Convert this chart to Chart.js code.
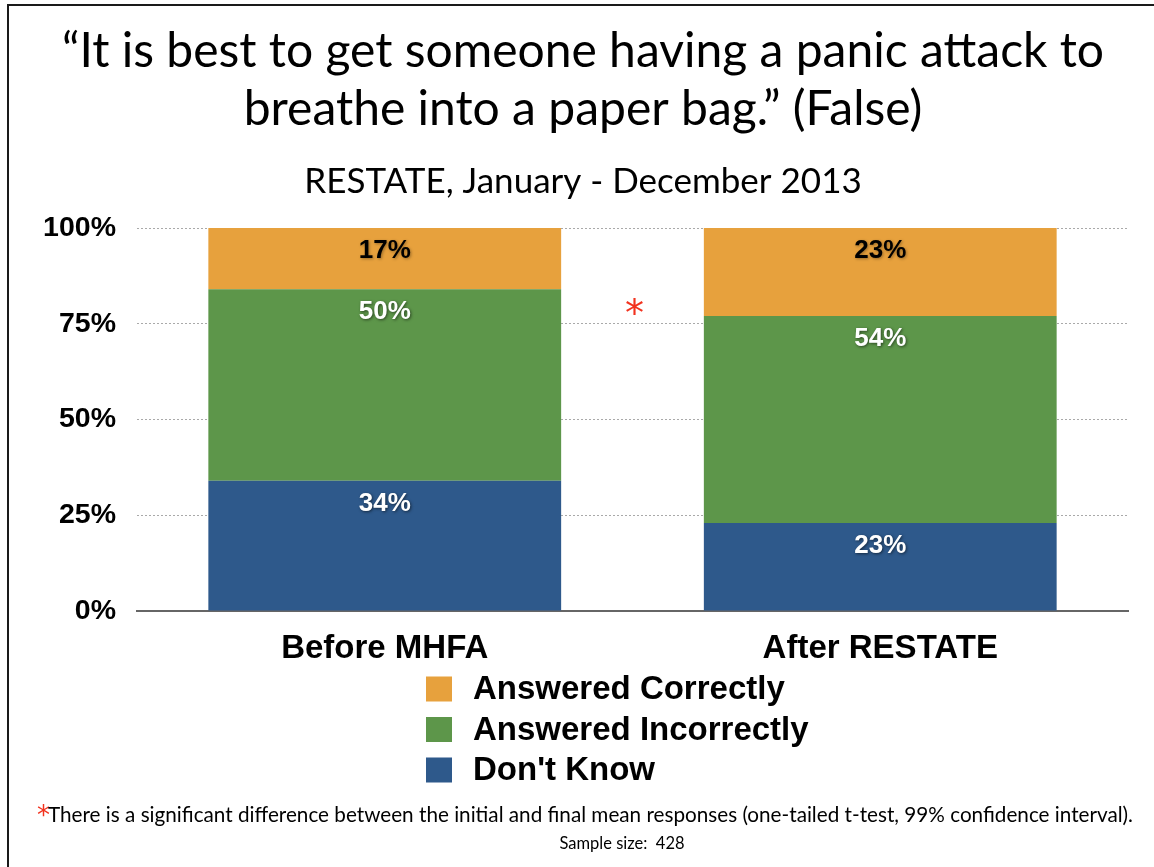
<!DOCTYPE html>
<html>
<head>
<meta charset="utf-8">
<script src="https://cdn.jsdelivr.net/npm/chart.js@4.4.0/dist/chart.umd.min.js"></script>
<style>
  html, body { margin: 0; padding: 0; background: #fff; }
  #wrap { position: relative; width: 1154px; height: 867px; overflow: hidden; }
  #frame { position: absolute; left: 7px; top: 4px; width: 1300px; height: 1000px;
           border-left: 2px solid #1a1a1a; border-top: 2px solid #1a1a1a; }
  canvas { position: absolute; left: 0; top: 0; }
</style>
</head>
<body>
<div id="wrap">
  <div id="frame"></div>
  <canvas id="chart" width="1154" height="867"></canvas>
</div>
<script>
// Survey responses, percent of respondents
const categories = ['Before MHFA', 'After RESTATE'];
const dontKnow   = [34, 23];
const incorrect  = [50, 54];
const correct    = [17, 23];
const yTicks     = [0, 25, 50, 75, 100];

const titleLines = ['\u201CIt is best to get someone having a panic attack to',
                    'breathe into a paper bag.\u201D (False)'];
const subtitle   = 'RESTATE, January - December 2013';
const footnote   = 'There is a significant difference between the initial and final mean responses (one-tailed t-test, 99% confidence interval).';
const sampleNote = 'Sample size:  428';

const HUMANIST = '"Lato", "Open Sans", sans-serif';
const GROTESK  = '"Liberation Sans", Arial, sans-serif';
const RED = '#f2321e';

// Percent labels near the top of every segment
const segmentLabels = {
  id: 'segmentLabels',
  afterDatasetsDraw(chart) {
    const ctx = chart.ctx;
    const top = chart.chartArea.top;
    chart.data.datasets.forEach((ds, di) => {
      const meta = chart.getDatasetMeta(di);
      meta.data.forEach((bar, i) => {
        const y = Math.max(bar.y, top) + 23;
        ctx.save();
        ctx.font = 'bold 26px ' + GROTESK;
        ctx.textAlign = 'center';
        ctx.textBaseline = 'middle';
        ctx.shadowColor = ds.textColor === '#000' ? 'rgba(0,0,0,0.35)' : 'rgba(0,0,0,0.55)';
        ctx.shadowBlur = 3;
        ctx.shadowOffsetX = 1;
        ctx.shadowOffsetY = 1;
        ctx.fillStyle = ds.textColor;
        ctx.fillText(ds.data[i] + '%', bar.x, y);
        ctx.restore();
      });
    });
  }
};

// Headings, significance marker, legend and notes
const slideText = {
  id: 'slideText',
  afterDraw(chart) {
    const ctx = chart.ctx;
    const cx = 583;
    ctx.save();
    ctx.fillStyle = '#000';
    ctx.textAlign = 'center';
    ctx.textBaseline = 'alphabetic';

    ctx.font = '48px ' + HUMANIST;
    ctx.fillText(titleLines[0], cx, 67);
    ctx.fillText(titleLines[1], cx, 125);

    ctx.font = '35px ' + HUMANIST;
    ctx.fillText(subtitle, cx, 193);

    // significance marker between the two bars
    const xs = chart.scales.x, ys = chart.scales.y;
    const mx = (xs.getPixelForValue(0) + xs.getPixelForValue(1)) / 2;
    ctx.fillStyle = RED;
    ctx.font = '38px "DejaVu Sans"';
    ctx.fillText('*', mx + 2, ys.getPixelForValue(79) + 18);

    // legend, top series first
    const order = chart.data.datasets.slice().reverse();
    ctx.textAlign = 'left';
    ctx.textBaseline = 'middle';
    ctx.font = 'bold 33px ' + GROTESK;
    order.forEach((ds, k) => {
      const y = 689 + k * 40.5;
      ctx.fillStyle = ds.backgroundColor;
      ctx.fillRect(426, y - 12.5, 26, 25);
      ctx.fillStyle = '#000';
      ctx.fillText(ds.label, 473, y + 1);
    });

    // footnote with red marker
    ctx.textBaseline = 'alphabetic';
    ctx.font = '20.7px ' + HUMANIST;
    const noteW = ctx.measureText(footnote).width;
    ctx.font = '26px "DejaVu Sans"';
    const starW = ctx.measureText('*').width - 2;
    const left = 585 - (starW + noteW) / 2;
    ctx.fillStyle = RED;
    ctx.fillText('*', left, 824);
    ctx.fillStyle = '#000';
    ctx.font = '20.7px ' + HUMANIST;
    ctx.fillText(footnote, left + starW, 822);

    ctx.textAlign = 'center';
    ctx.font = '16.5px ' + HUMANIST;
    ctx.fillText(sampleNote, 622, 849);
    ctx.restore();
  }
};

const dsBase = { borderWidth: 0, clip: 0, categoryPercentage: 1, barPercentage: 0.712 };

new Chart(document.getElementById('chart'), {
  type: 'bar',
  data: {
    labels: categories,
    datasets: [
      Object.assign({ label: "Don't Know",           data: dontKnow,  backgroundColor: '#2e598b', textColor: '#fff' }, dsBase),
      Object.assign({ label: 'Answered Incorrectly', data: incorrect, backgroundColor: '#5d964a', textColor: '#fff' }, dsBase),
      Object.assign({ label: 'Answered Correctly',   data: correct,   backgroundColor: '#e7a13d', textColor: '#000' }, dsBase)
    ]
  },
  options: {
    responsive: false,
    animation: false,
    devicePixelRatio: 1,
    layout: { padding: { top: 228, left: 0, right: 26, bottom: 196 } },
    plugins: {
      legend: { display: false },
      title: { display: false },
      tooltip: { enabled: false }
    },
    scales: {
      x: {
        stacked: true,
        grid: { display: false },
        border: { display: true, color: '#666', width: 2 },
        ticks: { color: '#000', padding: 10, font: { family: GROTESK, weight: 'bold', size: 33 } },
        afterFit(scale) { scale.height = 60; }
      },
      y: {
        stacked: true,
        min: yTicks[0],
        max: yTicks[yTicks.length - 1],
        afterBuildTicks(scale) { scale.ticks = yTicks.map(v => ({ value: v })); },
        ticks: {
          color: '#000',
          padding: 21,
          font: { family: GROTESK, weight: 'bold', size: 28.5 },
          callback: v => v + '%'
        },
        grid: {
          drawTicks: false,
          lineWidth: 1,
          color: c => (c.tick && c.tick.value === 0) ? 'rgba(0,0,0,0)' : '#a9a9a9'
        },
        border: { display: false, dash: [2, 2] },
        afterFit(scale) { scale.width = 137; }
      }
    }
  },
  plugins: [segmentLabels, slideText]
});
</script>
</body>
</html>
